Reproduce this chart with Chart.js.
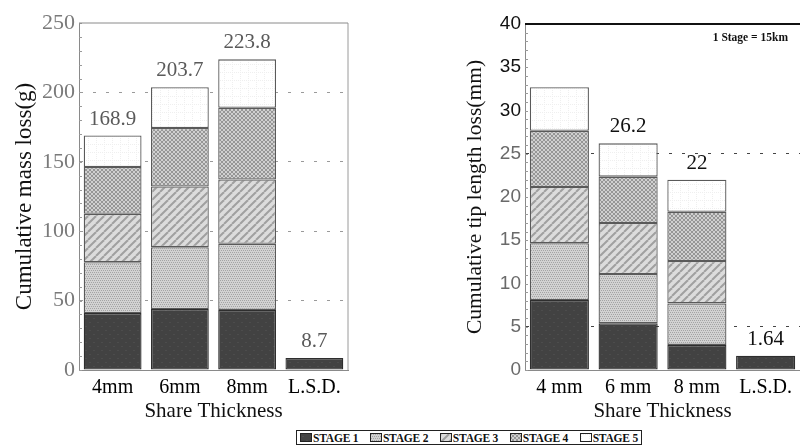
<!DOCTYPE html>
<html>
<head>
<meta charset="utf-8">
<script src="https://cdn.jsdelivr.net/npm/chart.js@4.4.1/dist/chart.umd.min.js"></script>
<style>
  body { margin: 0; background: #fff; width: 800px; height: 446px; position: relative; overflow: hidden; }
  .box { position: absolute; top: 0; width: 400px; height: 430px; }
  #legend {
    position: absolute; left: 296px; top: 430px; height: 15px; width: 346px;
    border: 1px solid #222; box-sizing: border-box;
    font: bold 11.5px "Liberation Serif", serif; color: #111; letter-spacing: -0.2px;
    display: flex; align-items: center; justify-content: space-between; padding: 0 3px;
  }
  #legend span { display: inline-flex; align-items: center; white-space: nowrap; }
  #legend canvas { width: 12px; height: 9px; border: 1px solid #222; margin-right: 1px; box-sizing: border-box; }
</style>
</head>
<body>
<div class="box" style="left:0"><canvas id="massChart" width="400" height="430"></canvas></div>
<div class="box" style="left:400px"><canvas id="tipChart" width="400" height="430"></canvas></div>
<div id="legend"></div>
<script>
// categories
const massLabels = ['4mm', '6mm', '8mm', 'L.S.D.'];
const tipLabels = ['4 mm', '6 mm', '8 mm', 'L.S.D.'];
const stageNames = ['STAGE 1', 'STAGE 2', 'STAGE 3', 'STAGE 4', 'STAGE 5'];

// cumulative mass loss (g), per stage
const massStage1 = [41.0, 44.0, 43.3, 8.7];
const massStage2 = [36.6, 44.5, 47.6, 0];
const massStage3 = [34.9, 43.7, 46.4, 0];
const massStage4 = [33.7, 42.1, 51.6, 0];
const massStage5 = [22.7, 29.4, 34.9, 0];
const massTotals = ['168.9', '203.7', '223.8', '8.7'];

// cumulative tip length loss (mm), per stage
const tipStage1 = [8.1, 5.4, 2.9, 1.64];
const tipStage2 = [6.55, 5.7, 4.8, 0];
const tipStage3 = [6.5, 5.9, 4.9, 0];
const tipStage4 = [6.5, 5.35, 5.7, 0];
const tipStage5 = [5.05, 3.85, 3.7, 0];
const tipTotals = [null, '26.2', '22', '1.64'];

// axis ticks
const massTicks = [0, 50, 100, 150, 200, 250];
const tipTicks = [0, 5, 10, 15, 20, 25, 30, 35, 40];

// fill patterns for the five stages
function makePattern(kind, w = 8, h = 8) {
    const c = document.createElement('canvas');
    c.width = w; c.height = h;
    const g = c.getContext('2d');
    if (kind === 1) {
        g.fillStyle = '#424242'; g.fillRect(0, 0, w, h);
        g.fillStyle = '#4c4c4c'; g.fillRect(1, 2, 2, 1); g.fillRect(5, 6, 2, 1);
    } else if (kind === 2) {
        g.fillStyle = '#d2d2d2'; g.fillRect(0, 0, w, h);
        g.fillStyle = '#a4a4a4';
        for (let y = 0; y < h; y += 2) for (let x = (y / 2) % 2; x < w; x += 2) g.fillRect(x, y, 1, 1);
    } else if (kind === 3) {
        g.fillStyle = '#dcdcdc'; g.fillRect(0, 0, w, h);
        g.strokeStyle = '#a0a0a0'; g.lineWidth = 2;
        for (let o = -w; o <= w * 2; o += 8) { g.beginPath(); g.moveTo(o, h); g.lineTo(o + h, 0); g.stroke(); }
    } else if (kind === 4) {
        g.fillStyle = '#d0d0d0'; g.fillRect(0, 0, w, h);
        g.strokeStyle = '#969696'; g.lineWidth = 1;
        for (let o = -w; o <= w * 2; o += 4) {
            g.beginPath(); g.moveTo(o, h); g.lineTo(o + h, 0); g.stroke();
            g.beginPath(); g.moveTo(o, 0); g.lineTo(o + h, h); g.stroke();
        }
    } else {
        g.fillStyle = '#ffffff'; g.fillRect(0, 0, w, h);
        g.fillStyle = '#efefef';
        for (let x = 0; x < w; x += 2) g.fillRect(x, 0, 1, 1);
        for (let y = 0; y < h; y += 2) g.fillRect(0, y, 1, 1);
    }
    return g.createPattern(c, 'repeat');
}
const stageFills = [1, 2, 3, 4, 5].map(k => makePattern(k));

function stackSets(series) {
    return series.map((data, i) => ({
        label: stageNames[i],
        data: data,
        backgroundColor: stageFills[i],
        borderColor: i === 0 ? '#2e2e2e' : '#5a5a5a',
        borderWidth: 1.3,
        borderSkipped: false,
        barPercentage: 0.86,
        categoryPercentage: 1.0
    }));
}

// totals written above each stack
const totalsPlugin = {
    id: 'totals',
    afterDatasetsDraw(chart, args, opts) {
        const ctx = chart.ctx;
        const xs = chart.scales.x, ys = chart.scales.y;
        ctx.save();
        ctx.font = opts.font;
        ctx.fillStyle = opts.color;
        ctx.textAlign = 'center';
        ctx.textBaseline = 'bottom';
        opts.labels.forEach((txt, i) => {
            if (txt === null) return;
            let sum = 0;
            chart.data.datasets.forEach(ds => { sum += ds.data[i] || 0; });
            ctx.fillText(txt, xs.getPixelForValue(i), ys.getPixelForValue(sum) - opts.gap);
        });
        ctx.restore();
    }
};

// frame round the plot area, minor ticks, optional note
const framePlugin = {
    id: 'frame',
    afterDraw(chart, args, opts) {
        const a = chart.chartArea, ctx = chart.ctx, ys = chart.scales.y;
        ctx.save();
        ctx.strokeStyle = '#9a9a9a'; ctx.lineWidth = 1;
        for (let v = 0; v <= ys.max; v += opts.minor) {
            const y = Math.round(ys.getPixelForValue(v)) + 0.5;
            ctx.beginPath(); ctx.moveTo(a.left, y); ctx.lineTo(a.left + 3, y); ctx.stroke();
        }
        if (opts.right) {
            ctx.beginPath(); ctx.moveTo(a.right, a.top); ctx.lineTo(a.right, a.bottom); ctx.stroke();
        }
        ctx.strokeStyle = opts.topColor;
        ctx.lineWidth = opts.topWidth;
        ctx.beginPath(); ctx.moveTo(a.left, a.top); ctx.lineTo(a.right, a.top); ctx.stroke();
        if (opts.note) {
            ctx.font = 'bold 11.5px "Liberation Serif"';
            ctx.fillStyle = '#111';
            ctx.textAlign = 'right';
            ctx.textBaseline = 'middle';
            ctx.fillText(opts.note, a.right - 12, a.top + 14);
        }
        ctx.restore();
    }
};

function buildChart(id, cfg) {
    return new Chart(document.getElementById(id), {
        type: 'bar',
        data: { labels: cfg.labels, datasets: stackSets(cfg.series) },
        options: {
            responsive: false,
            animation: false,
            layout: { padding: { top: cfg.top, right: cfg.right, bottom: 2, left: cfg.left } },
            plugins: {
                legend: { display: false },
                tooltip: { enabled: false },
                totals: { labels: cfg.totals, font: '21px "Liberation Serif"', color: cfg.totalColor, gap: 6 },
                frame: { topColor: cfg.topColor, topWidth: cfg.topWidth, right: cfg.frameRight,
                         minor: cfg.minor, note: cfg.note }
            },
            scales: {
                x: {
                    stacked: true,
                    grid: { display: false, drawTicks: false },
                    border: { display: true, color: '#8a8a8a', width: 1 },
                    ticks: { color: '#000', font: { family: 'Liberation Serif', size: 20 }, padding: 6 },
                    title: { display: true, text: 'Share Thickness', color: '#111',
                             font: { family: 'Liberation Serif', size: 21 }, padding: { top: 0 } },
                    afterFit(s) { s.height = 58; }
                },
                y: {
                    stacked: true,
                    min: 0, max: cfg.max,
                    afterBuildTicks(s) { s.ticks = cfg.ticks.map(v => ({ value: v })); },
                    grid: {
                        drawTicks: false,
                        color: ctx => cfg.gridAt.includes(ctx.tick.value) ? cfg.gridColor : 'rgba(0,0,0,0)',
                        lineWidth: 1
                    },
                    border: { display: true, color: '#8a8a8a', width: 1, dash: [3, 10] },
                    ticks: {
                        color: cfg.tickColor,
                        font: { family: cfg.tickFamily, size: cfg.tickSize },
                        padding: 4
                    },
                    title: { display: true, text: cfg.yTitle, color: '#111',
                             font: { family: 'Liberation Serif', size: cfg.titleSize }, padding: 0 },
                    afterFit(s) { s.width = cfg.yWidth; }
                }
            }
        },
        plugins: [totalsPlugin, framePlugin]
    });
}

buildChart('massChart', {
    labels: massLabels,
    series: [massStage1, massStage2, massStage3, massStage4, massStage5],
    totals: massTotals,
    totalColor: '#5a5a5a',
    max: 250, ticks: massTicks, gridAt: [50, 100, 150, 200], gridColor: '#9a9a9a', minor: 10,
    tickColor: '#7a7a7a', tickFamily: 'Liberation Serif', tickSize: 22,
    yTitle: 'Cumulative mass loss(g)', titleSize: 23, yWidth: 68,
    top: 23, right: 52, left: 11,
    topColor: '#8a8a8a', topWidth: 1, frameRight: true, note: null
});

buildChart('tipChart', {
    labels: tipLabels,
    series: [tipStage1, tipStage2, tipStage3, tipStage4, tipStage5],
    totals: tipTotals,
    totalColor: '#111',
    max: 40, ticks: tipTicks, gridAt: [5, 25], gridColor: '#444', minor: 1,
    tickColor: ctx => ctx.tick.value >= 30 ? '#111' : '#6a6a6a', tickFamily: 'Liberation Sans', tickSize: 19,
    yTitle: 'Cumulative tip length loss(mm)', titleSize: 21.5, yWidth: 63,
    top: 24, right: 0, left: 62,
    topColor: '#111', topWidth: 2, frameRight: false, note: '1 Stage = 15km'
});

// legend below the charts
const legend = document.getElementById('legend');
stageNames.forEach((name, i) => {
    const item = document.createElement('span');
    const sw = document.createElement('canvas');
    sw.width = 10; sw.height = 7;
    const g = sw.getContext('2d');
    g.fillStyle = stageFills[i];
    g.fillRect(0, 0, 10, 7);
    item.appendChild(sw);
    item.appendChild(document.createTextNode(name));
    legend.appendChild(item);
});
</script>
</body>
</html>
